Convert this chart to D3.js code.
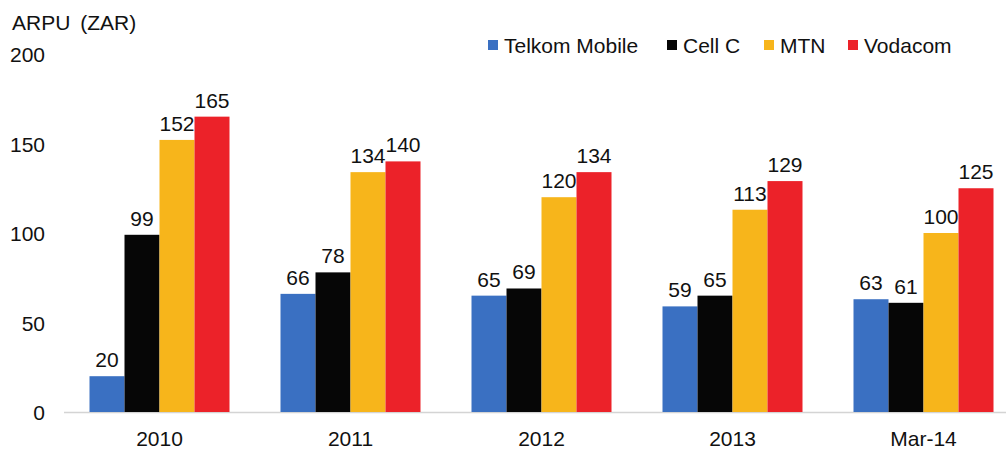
<!DOCTYPE html>
<html>
<head>
<meta charset="utf-8">
<script src="https://cdn.jsdelivr.net/npm/d3@7"></script>
<style>
  body { margin: 0; background: #fff; }
  text { font-family: "Liberation Sans", Arial, sans-serif; fill: #111; }
</style>
</head>
<body>
<script>
var categories = ["2010", "2011", "2012", "2013", "Mar-14"];
var seriesNames = ["Telkom Mobile", "Cell C", "MTN", "Vodacom"];
var telkom = [20, 66, 65, 59, 63];
var cellC = [99, 78, 69, 65, 61];
var mtn = [152, 134, 120, 113, 100];
var vodacom = [165, 140, 134, 129, 125];
var yTicks = [0, 50, 100, 150, 200];
var colors = ["#3a70c2", "#060606", "#f7b51b", "#ec2229"];

var W = 1006, H = 452;
var svg = d3.select("body").append("svg").attr("width", W).attr("height", H);

var values = [telkom, cellC, mtn, vodacom];
var rows = categories.map(function (c, i) {
  return { cat: c, vals: values.map(function (s) { return s[i]; }) };
});

var x0 = d3.scaleBand().domain(categories).range([64, 1019])
  .paddingInner(0.267).paddingOuter(0.1335);
var x1 = d3.scaleBand().domain(d3.range(4)).range([0, x0.bandwidth()]);
var y = d3.scaleLinear().domain([0, 200]).range([412, 54]);

// baseline
svg.append("line").attr("x1", 64).attr("x2", 1006)
  .attr("y1", y(0) + 0.5).attr("y2", y(0) + 0.5)
  .attr("stroke", "#d4d4d4").attr("stroke-width", 1.5);

// y tick labels
svg.selectAll(".ytick").data(yTicks).enter().append("text")
  .attr("x", 45).attr("y", function (d) { return y(d) + 8; })
  .attr("text-anchor", "end").style("font-size", "21px")
  .text(function (d) { return d; });

// x labels
svg.selectAll(".xlab").data(categories).enter().append("text")
  .attr("x", function (d) { return x0(d) + x0.bandwidth() / 2; })
  .attr("y", 446).attr("text-anchor", "middle").style("font-size", "21px")
  .text(function (d) { return d; });

var g = svg.selectAll(".grp").data(rows).enter().append("g")
  .attr("transform", function (d) { return "translate(" + x0(d.cat) + ",0)"; });

g.selectAll("rect").data(function (d) { return d.vals; }).enter().append("rect")
  .attr("x", function (d, i) { return x1(i); })
  .attr("width", x1.bandwidth())
  .attr("y", function (d) { return y(d); })
  .attr("height", function (d) { return y(0) - y(d); })
  .attr("fill", function (d, i) { return colors[i]; });

g.selectAll(".val").data(function (d) { return d.vals; }).enter().append("text")
  .attr("x", function (d, i) { return x1(i) + x1.bandwidth() / 2; })
  .attr("y", function (d) { return y(d) - 9; })
  .attr("text-anchor", "middle").style("font-size", "21px")
  .text(function (d) { return d; });

// title
svg.append("text").attr("x", 12).attr("y", 30).style("font-size", "21px")
  .style("word-spacing", "4px").text("ARPU (ZAR)");

// legend
var legX = [488, 667, 764, 848];
var leg = svg.selectAll(".leg").data(seriesNames).enter().append("g")
  .attr("transform", function (d, i) { return "translate(" + legX[i] + ",0)"; });
leg.append("rect").attr("x", 0).attr("y", 40).attr("width", 10).attr("height", 10)
  .attr("fill", function (d, i) { return colors[i]; });
leg.append("text").attr("x", 16).attr("y", 53).style("font-size", "21px")
  .text(function (d) { return d; });
</script>
</body>
</html>
